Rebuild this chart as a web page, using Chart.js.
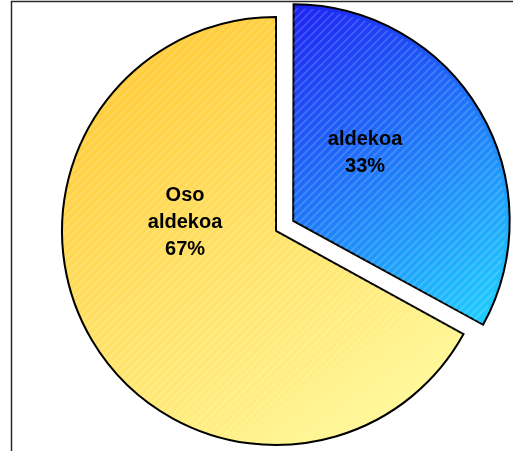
<!DOCTYPE html>
<html>
<head>
<meta charset="utf-8">
<script src="https://cdn.jsdelivr.net/npm/chart.js@4/dist/chart.umd.min.js"></script>
<style>
  html, body { margin: 0; padding: 0; background: #fff; }
  #wrap { width: 513px; height: 451px; }
</style>
</head>
<body>
<div id="wrap"><canvas id="pieChart" width="513" height="451"></canvas></div>
<script>
// Data
const labels = ["aldekoa", "Oso aldekoa"];
const labelLines = [["aldekoa"], ["Oso", "aldekoa"]];
const values = [33, 67];
const explode = [80, 0]; // chart.js divides offset by 4

// gradient stops per slice: [start (top-left), end (bottom-right)]
const sliceColors = [
  ["#1c22f4", "#1fd6ff"],
  ["#ffc72c", "#fffb9c"]
];

const RADIUS = 214;

// outer frame of the original chart object
const framePlugin = {
  id: "frame",
  beforeDraw(chart) {
    const { ctx, width, height } = chart;
    ctx.save();
    ctx.strokeStyle = "#2a2a2a";
    ctx.lineWidth = 1.5;
    ctx.beginPath();
    ctx.moveTo(11.5, height);
    ctx.lineTo(11.5, 1.5);
    ctx.lineTo(width, 1.5);
    ctx.stroke();
    ctx.restore();
  }
};

// faint diagonal hatching + data labels
const labelPlugin = {
  id: "sliceLabels",
  afterDatasetsDraw(chart) {
    const { ctx } = chart;
    const meta = chart.getDatasetMeta(0);
    const total = values.reduce((a, b) => a + b, 0);

    meta.data.forEach((arc, i) => {
      const p = arc.getProps(["x", "y", "startAngle", "endAngle", "outerRadius"], true);
      const off = (arc.options.offset || 0) / 4;
      const half = (p.startAngle + p.endAngle) / 2;
      const cx = p.x + Math.cos(half) * off;
      const cy = p.y + Math.sin(half) * off;

      // hatching
      ctx.save();
      ctx.beginPath();
      ctx.moveTo(cx, cy);
      ctx.arc(cx, cy, p.outerRadius - 1.5, p.startAngle, p.endAngle);
      ctx.closePath();
      ctx.clip();
      ctx.strokeStyle = "rgba(255,255,255,0.16)";
      ctx.lineWidth = 2;
      for (let k = -600; k < 600; k += 8) {
        ctx.beginPath();
        ctx.moveTo(cx + k - 300, cy + 300);
        ctx.lineTo(cx + k + 300, cy - 300);
        ctx.stroke();
      }
      ctx.restore();

      // label text
      const pct = Math.round(values[i] / total * 100) + "%";
      const lines = labelLines[i].concat([pct]);
      let lx, ly;
      if (i === 0) {
        lx = p.x + 0.416 * RADIUS;
        ly = p.y - 0.364 * RADIUS;
      } else {
        lx = p.x - 0.425 * RADIUS;
        ly = p.y - 0.042 * RADIUS;
      }
      ctx.save();
      ctx.fillStyle = "#000";
      ctx.font = "bold 20px 'Liberation Sans', Arial, sans-serif";
      ctx.textAlign = "center";
      ctx.textBaseline = "middle";
      const lh = 27;
      const y0 = ly - (lines.length - 1) * lh / 2;
      lines.forEach((t, j) => ctx.fillText(t, lx, y0 + j * lh));
      ctx.restore();
    });
  }
};

function sliceGradient(context) {
  const chart = context.chart;
  const area = chart.chartArea;
  if (!area) return sliceColors[context.dataIndex][0];
  const cx = (area.left + area.right) / 2;
  const cy = (area.top + area.bottom) / 2;
  const c = sliceColors[context.dataIndex];
  let g;
  if (context.dataIndex === 0) {
    g = chart.ctx.createLinearGradient(cx, cy - RADIUS, cx + RADIUS, cy + 0.5 * RADIUS);
  } else {
    g = chart.ctx.createLinearGradient(cx - 0.8 * RADIUS, cy - RADIUS, cx + 0.6 * RADIUS, cy + RADIUS);
  }
  g.addColorStop(0, c[0]);
  g.addColorStop(1, c[1]);
  return g;
}

new Chart(document.getElementById("pieChart"), {
  type: "pie",
  data: {
    labels,
    datasets: [{
      data: values,
      backgroundColor: sliceGradient,
      borderColor: "#000",
      borderWidth: 2,
      borderJoinStyle: "miter",
      offset: explode,
      radius: RADIUS,
      clip: false
    }]
  },
  options: {
    responsive: false,
    animation: false,
    layout: { padding: { left: 39, top: 11, right: 0, bottom: 0 } },
    plugins: {
      legend: { display: false },
      tooltip: { enabled: false }
    }
  },
  plugins: [framePlugin, labelPlugin]
});
</script>
</body>
</html>
